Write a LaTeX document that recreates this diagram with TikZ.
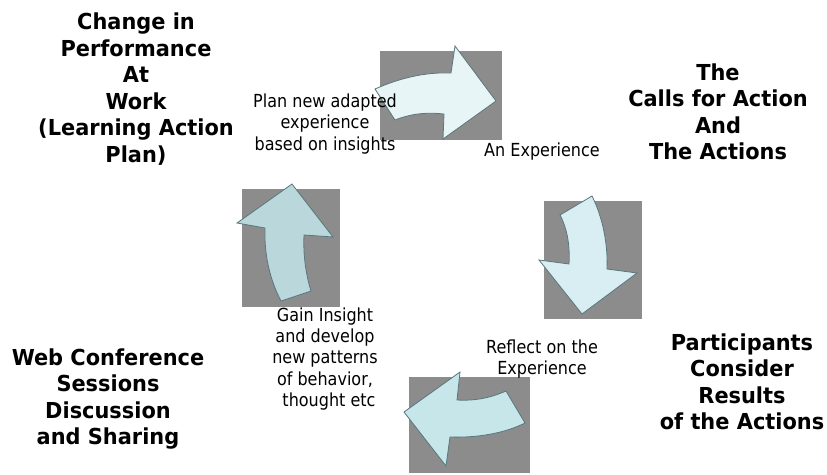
\documentclass[tikz,border=0pt]{standalone}
\usepackage{fontspec}
\setmainfont{DejaVu Sans}
\newfontfamily\headfont[FakeStretch=0.95]{DejaVu Sans}
\newfontfamily\notefont[FakeStretch=0.89]{DejaVu Sans}
\begin{document}
\begin{tikzpicture}[x=1pt,y=-1pt,
  headtext/.style={align=center,inner sep=0pt,
    font=\headfont\bfseries\fontsize{22}{26.5}\selectfont},
  notetext/.style={align=center,inner sep=0pt,
    font=\notefont\fontsize{18}{21.3}\selectfont},
  backbox/.style={fill=boxgray,draw=none},
  bentarrow/.style={draw=edgeslate,line width=0.8pt,line join=miter}]
\definecolor{boxgray}{RGB}{140,140,140}
\definecolor{edgeslate}{RGB}{88,118,124}
\definecolor{arrowA}{RGB}{232,245,246}
\definecolor{arrowB}{RGB}{216,238,242}
\definecolor{arrowC}{RGB}{198,230,234}
\definecolor{arrowD}{RGB}{186,215,220}
\useasboundingbox (0,0) rectangle (827,474);

% grey backing squares
\fill[backbox] (380,51) rectangle (502,140);
\fill[backbox] (544,201) rectangle (642,319);
\fill[backbox] (409,377) rectangle (530,473);
\fill[backbox] (242,189) rectangle (340,307);

% top arrow, pointing right
\draw[bentarrow,fill=arrowA]
  (375,89) .. controls (400,78) and (425,72) .. (451,73)
  -- (455,46) -- (496,101) -- (443,139) -- (444,114)
  .. controls (425,112) and (410,114) .. (395,120) -- cycle;

% right arrow, pointing down
\draw[bentarrow,fill=arrowB]
  (592,196) .. controls (603,218) and (608,245) .. (607,269)
  -- (637,273) -- (582,314) -- (539,260) -- (569,264)
  .. controls (570,248) and (568,230) .. (560,215) -- cycle;

% bottom arrow, pointing left
\draw[bentarrow,fill=arrowC]
  (525,423) .. controls (505,433) and (478,438) .. (450,437)
  -- (446,466) -- (404,412) -- (460,372) -- (457,400)
  .. controls (475,401) and (490,398) .. (506,391) -- cycle;

% left arrow, pointing up
\draw[bentarrow,fill=arrowD]
  (281,301) .. controls (270,280) and (264,255) .. (265,228)
  -- (237,223) -- (292,184) -- (333,237) -- (304,235)
  .. controls (303,255) and (306,275) .. (311,291) -- cycle;

% stage titles
\node[headtext] (perf) at (136,89)
  {Change in\\Performance\\At\\Work\\(Learning Action\\Plan)};
\node[headtext] (calls) at (718,112)
  {The\\Calls for Action\\And\\The Actions};
\node[headtext] (results) at (742,382)
  {Participants\\Consider\\Results\\of the Actions};
\node[headtext] (web) at (108,399)
  {Web Conference\\Sessions\\Discussion\\and Sharing};

% step notes
\node[notetext] (plan) at (325,124)
  {Plan new adapted\\experience\\based on insights};
\node[notetext] (exper) at (542,152) {An Experience};
\node[notetext] (reflect) at (542,359) {Reflect on the\\Experience};
\node[notetext] (insight) at (325,359)
  {Gain Insight\hspace{10pt}\\and develop\hspace{3pt}\\new patterns\\of behavior,\\\hspace{8pt}thought etc};
\end{tikzpicture}
\end{document}
